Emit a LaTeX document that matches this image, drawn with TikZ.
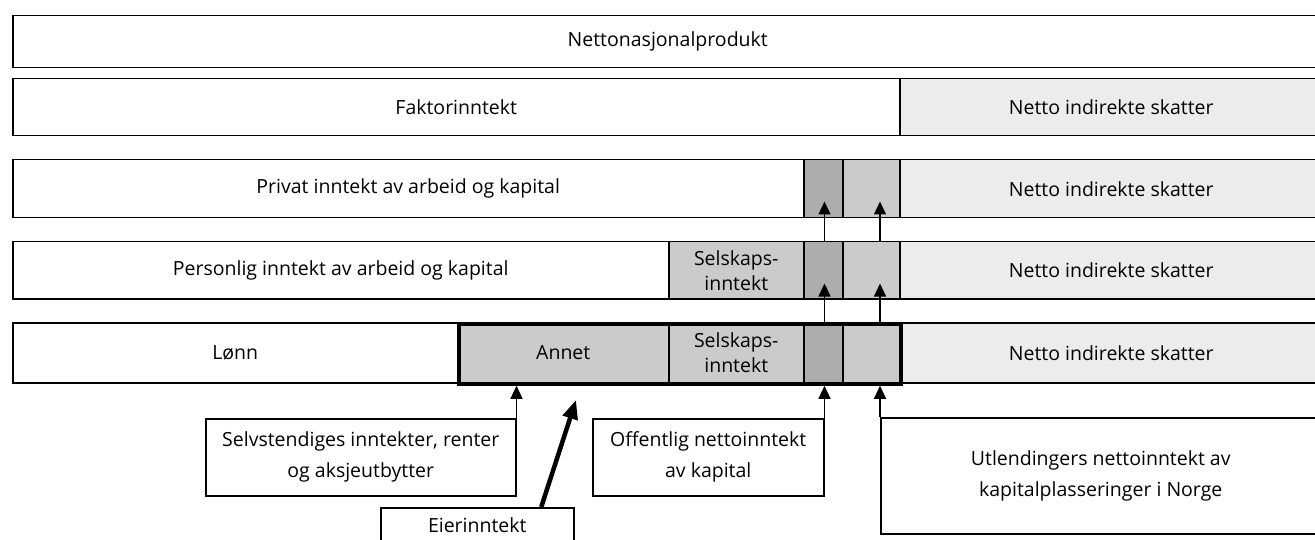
\documentclass[tikz,border=0pt]{standalone}
\usepackage{fontspec}
\setmainfont{Open Sans}
\usetikzlibrary{arrows.meta}
\definecolor{midgray}{HTML}{CBCBCB}
\definecolor{darkgray}{HTML}{ADADAD}
\definecolor{lightgray}{HTML}{ECECEC}
\begin{document}
\begin{tikzpicture}[x=1pt,y=-1pt,
  box/.style={draw=black, line width=1.5pt, inner sep=0pt, anchor=north west,
    align=center, font=\fontsize{19.5}{31}\selectfont},
  midcell/.style={box, fill=midgray},
  darkcell/.style={box, fill=darkgray},
  lightcell/.style={box, fill=lightgray},
  tight/.style={font=\fontsize{19.5}{25}\selectfont},
  ownerbox/.style={draw=black, line width=3.8pt, inner sep=0pt, anchor=north west},
  arr/.style={draw=black, line width=1.4pt, -{Triangle[length=13pt,width=12pt]}},
  thickarr/.style={draw=black, line width=4.5pt, -{Triangle[length=19pt,width=15pt]}}]
\useasboundingbox (0,0) rectangle (1315,540);
\clip (0,0) rectangle (1315,540);
% row 1
\node[box, minimum width=1310pt, minimum height=52pt] (np) at (12,15) {Nettonasjonalprodukt};
% row 2
\node[box, minimum width=887pt, minimum height=57pt] (fak) at (12,78) {Faktorinntekt};
\node[lightcell, minimum width=423pt, minimum height=57pt] (nis2) at (899,78) {Netto indirekte skatter};
% row 3
\node[box, minimum width=791pt, minimum height=58pt] (priv) at (12,159) {Privat inntekt av arbeid og kapital};
\node[darkcell, minimum width=39pt, minimum height=58pt] (d3) at (803,159) {};
\node[midcell, minimum width=57pt, minimum height=58pt] (m3) at (842,159) {};
\node[lightcell, minimum width=423pt, minimum height=58pt] (nis3) at (899,159) {Netto indirekte skatter};
% row 4
\node[box, minimum width=656pt, minimum height=57pt] (pers) at (12,241) {Personlig inntekt av arbeid og kapital};
\node[midcell, tight, minimum width=135pt, minimum height=57pt] (sel4) at (668,241) {Selskaps-\\inntekt};
\node[darkcell, minimum width=39pt, minimum height=57pt] (d4) at (803,241) {};
\node[midcell, minimum width=57pt, minimum height=57pt] (m4) at (842,241) {};
\node[lightcell, minimum width=423pt, minimum height=57pt] (nis4) at (899,241) {Netto indirekte skatter};
% row 5
\node[box, minimum width=445pt, minimum height=60pt] (lonn) at (12,322) {Lønn};
\node[midcell, minimum width=211pt, minimum height=60pt] (ann) at (457,322) {Annet};
\node[midcell, tight, minimum width=135pt, minimum height=60pt] (sel5) at (668,322) {Selskaps-\\inntekt};
\node[darkcell, minimum width=39pt, minimum height=60pt] (d5) at (803,322) {};
\node[midcell, minimum width=57pt, minimum height=60pt] (m5) at (842,322) {};
\node[lightcell, minimum width=423pt, minimum height=60pt] (nis5) at (899,322) {Netto indirekte skatter};
\node[ownerbox, minimum width=442pt, minimum height=60pt] (own) at (457,322) {};
% bottom boxes
\node[box, minimum width=310pt, minimum height=77pt] (selv) at (205,418) {Selvstendiges inntekter, renter\\og aksjeutbytter};
\node[box, minimum width=231pt, minimum height=77pt] (off) at (592,418) {Offentlig nettoinntekt\\av kapital};
\node[box, minimum width=440pt, minimum height=116pt] (utl) at (880,417) {Utlendingers nettoinntekt av\\kapitalplasseringer i Norge};
\node[box, minimum width=193pt, minimum height=34pt] (eier) at (380,507) {Eierinntekt};
% arrows from bottom boxes
\draw[arr] (selv.north east) -- (selv.north east |- own.south);
\draw[arr] (off.north east) -- (off.north east |- own.south);
\draw[arr] (utl.north west) -- (utl.north west |- own.south);
\coordinate (etip) at (576,400);
\draw[thickarr] ([xshift=64pt]eier.north) -- (etip);
% arrows between rows
\coordinate (t4) at ([yshift=16pt]m4.south);
\coordinate (t3) at ([yshift=17pt]m3.south);
\coordinate (u4) at ([yshift=16pt]d4.south);
\coordinate (u3) at ([yshift=17pt]d3.south);
\draw[arr] (off.north east |- d5.north) -- (off.north east |- u4);
\draw[arr] (off.north east |- d4.north) -- (off.north east |- u3);
\draw[arr] (utl.west |- m5.north) -- (utl.west |- t4);
\draw[arr] (utl.west |- m4.north) -- (utl.west |- t3);
\end{tikzpicture}
\end{document}
